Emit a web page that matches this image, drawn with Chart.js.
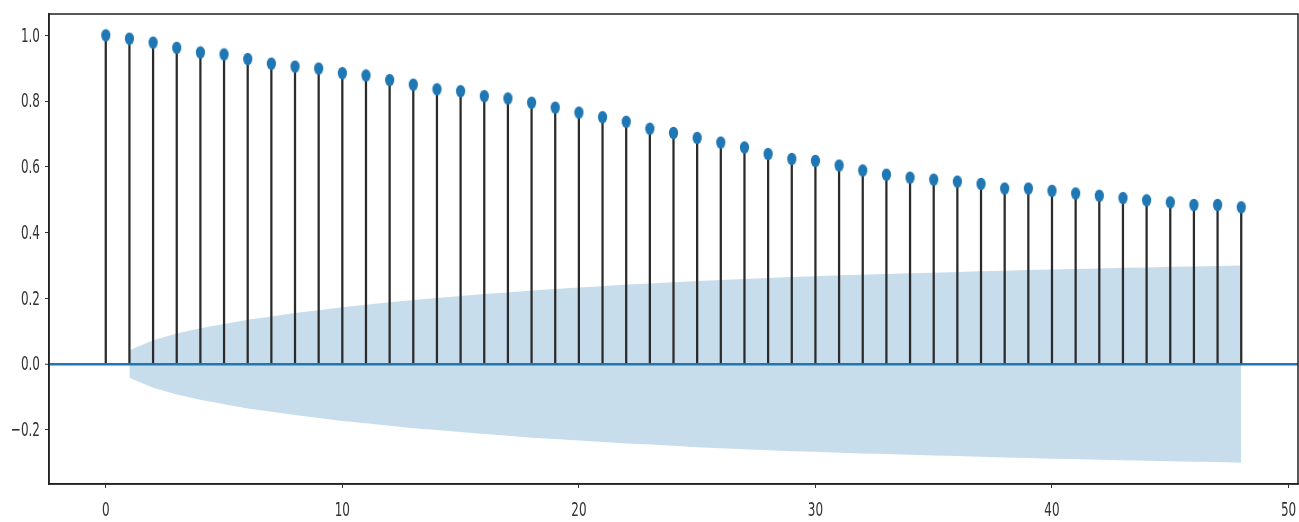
<!DOCTYPE html>
<html>
<head>
<meta charset="utf-8">
<script src="https://cdn.jsdelivr.net/npm/chart.js@4/dist/chart.umd.min.js"></script>
<style>
  html, body { margin: 0; padding: 0; background: #ffffff; }
  #c { display: block; }
</style>
</head>
<body>
<canvas id="c" width="1299" height="522"></canvas>
<script>
// ---- data ----
const lags = [0,1,2,3,4,5,6,7,8,9,10,11,12,13,14,15,16,17,18,19,20,21,22,23,24,25,26,27,28,29,30,31,32,33,34,35,36,37,38,39,40,41,42,43,44,45,46,47,48];
const acfValues = [1.000,0.990,0.978,0.962,0.948,0.942,0.928,0.914,0.905,0.899,0.885,0.878,0.864,0.850,0.836,0.830,0.815,0.808,0.795,0.780,0.765,0.751,0.737,0.716,0.703,0.688,0.674,0.659,0.639,0.624,0.618,0.604,0.589,0.576,0.567,0.561,0.555,0.548,0.534,0.534,0.527,0.519,0.512,0.505,0.498,0.492,0.484,0.484,0.477];
const bandLags = [1,2,3,4,5,6,7,8,9,10,11,12,13,14,15,16,17,18,19,20,21,22,23,24,25,26,27,28,29,30,31,32,33,34,35,36,37,38,39,40,41,42,43,44,45,46,47,48];
const bandUpper = [0.042,0.072,0.093,0.109,0.122,0.135,0.145,0.155,0.164,0.173,0.180,0.188,0.195,0.201,0.207,0.213,0.218,0.224,0.228,0.233,0.237,0.242,0.245,0.249,0.253,0.256,0.259,0.262,0.265,0.267,0.270,0.272,0.274,0.276,0.278,0.280,0.282,0.284,0.286,0.288,0.289,0.291,0.293,0.294,0.296,0.297,0.298,0.300];
const bandLower = [-0.042,-0.072,-0.093,-0.109,-0.122,-0.135,-0.145,-0.155,-0.164,-0.173,-0.180,-0.188,-0.195,-0.201,-0.207,-0.213,-0.218,-0.224,-0.228,-0.233,-0.237,-0.242,-0.245,-0.249,-0.253,-0.256,-0.259,-0.262,-0.265,-0.267,-0.270,-0.272,-0.274,-0.276,-0.278,-0.280,-0.282,-0.284,-0.286,-0.288,-0.289,-0.291,-0.293,-0.294,-0.296,-0.297,-0.298,-0.300];
const xTicks = [0,10,20,30,40,50];
const yTicks = [-0.2,0.0,0.2,0.4,0.6,0.8,1.0];
const xRange = [-2.4, 50.4];
const yRange = [-0.365, 1.065];

// ---- styles ----
const BLUE = '#1f77b4';
const LABEL_FONT = '20px "DejaVu Sans", sans-serif';
const LABEL_SQUEEZE = 0.6;
const LABEL_COLOR = '#333';

// ellipse marker
const marker = document.createElement('canvas');
marker.width = 11; marker.height = 14;
(function(){
  const m = marker.getContext('2d');
  m.fillStyle = BLUE;
  m.beginPath();
  m.ellipse(5.5, 7, 4.6, 6.2, 0, 0, Math.PI * 2);
  m.fill();
})();

function fmtY(v) {
  const s = Math.abs(v).toFixed(1);
  return v < -1e-9 ? '\u2212' + s : s;
}
function fmtX(v) { return String(v); }

const frame = {
  id: 'frame',
  afterDraw(chart) {
    const a = chart.chartArea, c = chart.ctx;
    c.save();
    c.strokeStyle = '#222';
    c.lineWidth = 1.5;
    c.strokeRect(a.left, a.top, a.right - a.left, a.bottom - a.top);
    // tick labels, drawn through the scales, horizontally condensed like the reference
    c.font = LABEL_FONT;
    c.fillStyle = LABEL_COLOR;
    const ys = chart.scales.y, xs = chart.scales.x;
    c.textAlign = 'right';
    c.textBaseline = 'middle';
    yTicks.forEach(v => {
      c.save();
      c.translate(a.left - 9, ys.getPixelForValue(v) + 1);
      c.scale(LABEL_SQUEEZE, 1);
      c.fillText(fmtY(v), 0, 0);
      c.restore();
    });
    c.textAlign = 'center';
    xTicks.forEach(v => {
      c.save();
      c.translate(xs.getPixelForValue(v), a.bottom + 27);
      c.scale(LABEL_SQUEEZE, 1);
      c.fillText(fmtX(v), 0, 0);
      c.restore();
    });
    c.restore();
  }
};

new Chart(document.getElementById('c'), {
  type: 'bar',
  data: {
    datasets: [
      {
        type: 'scatter',
        data: lags.map((l, i) => ({ x: l, y: acfValues[i] })),
        pointStyle: marker,
        pointRadius: 5,
        clip: false,
        order: 0
      },
      {
        type: 'bar',
        data: lags.map((l, i) => ({ x: l, y: acfValues[i] })),
        backgroundColor: '#2b2b2b',
        borderWidth: 0,
        barThickness: 1.6,
        order: 1
      },
      {
        type: 'line',
        data: bandLags.map((l, i) => ({ x: l, y: bandUpper[i] })),
        borderWidth: 0,
        pointRadius: 0,
        tension: 0,
        fill: false,
        order: 2
      },
      {
        type: 'line',
        data: bandLags.map((l, i) => ({ x: l, y: bandLower[i] })),
        borderWidth: 0,
        pointRadius: 0,
        tension: 0,
        fill: { target: '-1' },
        backgroundColor: 'rgba(31,119,180,0.25)',
        order: 2
      }
    ]
  },
  options: {
    responsive: false,
    animation: false,
    devicePixelRatio: 1,
    layout: { autoPadding: false, padding: { left: 0, right: 1, top: 14, bottom: 0 } },
    plugins: { legend: { display: false }, tooltip: { enabled: false } },
    scales: {
      x: {
        type: 'linear',
        offset: false,
        min: xRange[0],
        max: xRange[1],
        afterBuildTicks: (s) => { s.ticks = xTicks.map(v => ({ value: v })); },
        afterFit: (s) => { s.height = 38; s.paddingLeft = 0; s.paddingRight = 0; },
        ticks: { display: false },
        grid: { drawOnChartArea: false, tickLength: 4, color: '#333', offset: false },
        border: { color: '#222', width: 1.5 }
      },
      y: {
        type: 'linear',
        min: yRange[0],
        max: yRange[1],
        afterBuildTicks: (s) => { s.ticks = yTicks.map(v => ({ value: v })); },
        afterFit: (s) => { s.width = 49; s.paddingTop = 0; s.paddingBottom = 0; },
        ticks: { display: false },
        grid: {
          drawOnChartArea: true,
          tickLength: 4,
          tickColor: '#333',
          tickWidth: 1,
          color: (ctx) => (ctx.tick && Math.abs(ctx.tick.value) < 1e-9) ? BLUE : 'rgba(0,0,0,0)',
          lineWidth: (ctx) => (ctx.tick && Math.abs(ctx.tick.value) < 1e-9) ? 2.5 : 1
        },
        border: { color: '#222', width: 1.5 }
      }
    }
  },
  plugins: [frame]
});
</script>
</body>
</html>
